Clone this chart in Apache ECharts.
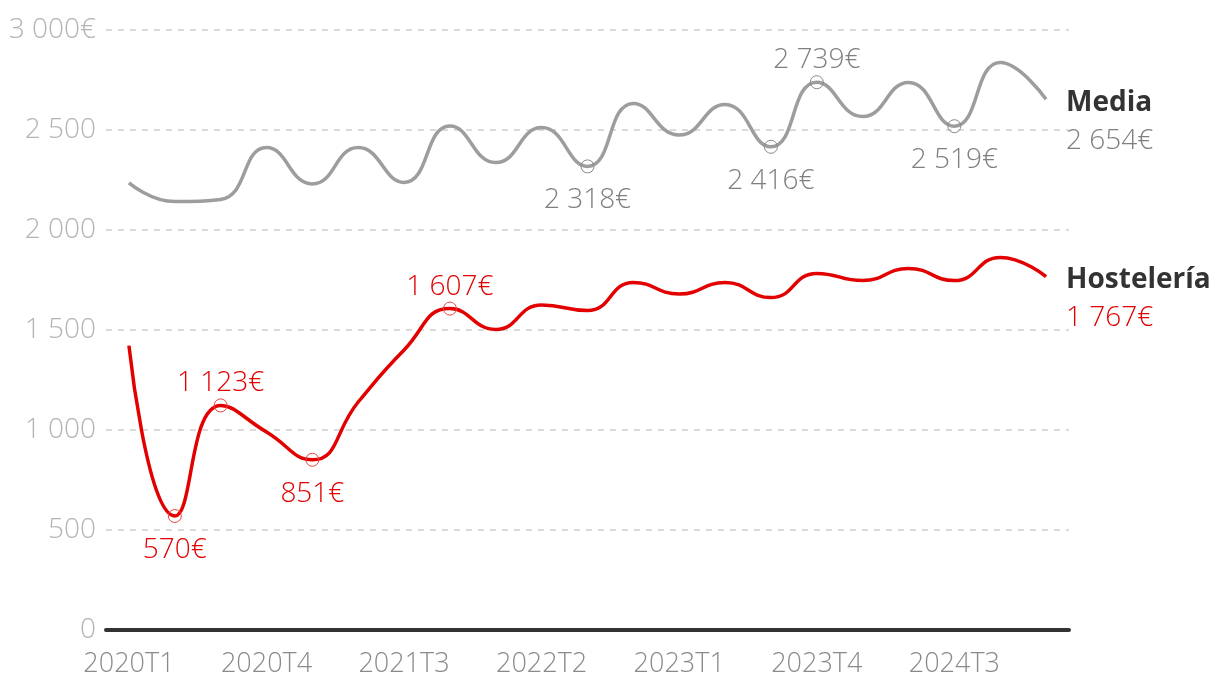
<!DOCTYPE html>
<html>
<head>
<meta charset="utf-8">
<script src="https://cdn.jsdelivr.net/npm/echarts@6/dist/echarts.min.js"></script>
<style>
html,body{margin:0;padding:0;background:#fff;}
#chart{width:1220px;height:696px;}
</style>
</head>
<body>
<div id="chart"></div>
<script>
const categories = ['2020T1','2020T2','2020T3','2020T4','2021T1','2021T2','2021T3','2021T4','2022T1','2022T2','2022T3','2022T4','2023T1','2023T2','2023T3','2023T4','2024T1','2024T2','2024T3','2024T4','2025T1'];
const hosteleria = [1422, 570, 1123, 990, 851, 1140, 1400, 1607, 1503, 1625, 1597, 1738, 1680, 1737, 1662, 1783, 1747, 1808, 1747, 1863, 1767];
const media = [2236, 2142, 2153, 2412, 2230, 2412, 2238, 2520, 2337, 2512, 2318, 2633, 2475, 2628, 2416, 2739, 2567, 2738, 2519, 2837, 2654];
// labelled points: index -> position
const hostLabels = {1:'bottom', 2:'top', 4:'bottom', 7:'top'};
const mediaLabels = {10:'bottom', 14:'bottom', 15:'top', 18:'bottom'};
const yTicks = [0, 500, 1000, 1500, 2000, 2500, 3000];

const FONT = '"Open Sans", sans-serif';
const RED = '#e20000';
const GREY = '#9d9d9f';

function fmt(v){
  return String(Math.round(v)).replace(/\B(?=(\d{3})+(?!\d))/g, ' ');
}

function buildData(values, labels, color, markColor){
  return values.map((v, i) => {
    if (labels[i]) {
      const pos = labels[i];
      return {
        value: v,
        symbol: 'circle',
        itemStyle: {color: 'rgba(255,255,255,0)', borderColor: markColor, borderWidth: 1},
        label: {
          show: true,
          position: pos,
          distance: pos === 'top' ? 1 : 13,
          formatter: fmt(v) + '€',
          color: color,
          fontFamily: FONT,
          fontWeight: 300,
          fontSize: 28
        }
      };
    }
    return {value: v, symbol: 'none'};
  });
}

const chart = echarts.init(document.getElementById('chart'), null, {renderer:'canvas'});
chart.setOption({
  animation: false,
  backgroundColor: '#fff',
  grid: {left: 106, right: 151, top: 30, bottom: 66, containLabel: false},
  xAxis: {
    type: 'category',
    data: categories,
    boundaryGap: true,
    axisLine: {show: true, lineStyle: {color: '#333', width: 4}},
    axisTick: {show: false},
    axisLabel: {
      interval: 2,
      margin: 21,
      color: '#8a8a8a',
      fontFamily: FONT,
      fontWeight: 300,
      fontSize: 27
    },
    splitLine: {show: false}
  },
  yAxis: {
    type: 'value',
    min: 0,
    max: 3000,
    interval: 500,
    axisLine: {show: false},
    axisTick: {show: false},
    axisLabel: {
      margin: 10,
      color: '#b4b4b4',
      fontFamily: FONT,
      fontWeight: 300,
      fontSize: 28,
      formatter: v => v === yTicks[yTicks.length-1] ? fmt(v) + '€' : fmt(v)
    },
    splitLine: {show: true, lineStyle: {color: '#d0d0d0', type: [6, 6], width: 1.5}}
  },
  series: [
    {
      name: 'Media',
      type: 'line',
      data: buildData(media, mediaLabels, '#7f7f7f', '#8a8a8a'),
      smooth: 0.5,
      showSymbol: true,
      symbolSize: 13,
      lineStyle: {color: GREY, width: 3.5},
      endLabel: {
        show: true,
        distance: 20,
        offset: [0, 23],
        formatter: p => '{n|' + p.seriesName + '}\n{v|' + fmt(p.value) + '€}',
        rich: {
          n: {fontFamily: FONT, fontWeight: 700, fontSize: 28, color: '#333', lineHeight: 38},
          v: {fontFamily: FONT, fontWeight: 300, fontSize: 28, color: '#7f7f7f', lineHeight: 38}
        }
      },
      z: 2
    },
    {
      name: 'Hostelería',
      type: 'line',
      data: buildData(hosteleria, hostLabels, RED, '#e84545'),
      smooth: 0.5,
      showSymbol: true,
      symbolSize: 13,
      lineStyle: {color: RED, width: 3.5},
      endLabel: {
        show: true,
        distance: 20,
        offset: [0, 22],
        formatter: p => '{n|' + p.seriesName + '}\n{v|' + fmt(p.value) + '€}',
        rich: {
          n: {fontFamily: FONT, fontWeight: 700, fontSize: 28, color: '#333', lineHeight: 38},
          v: {fontFamily: FONT, fontWeight: 300, fontSize: 28, color: RED, lineHeight: 38}
        }
      },
      z: 3
    }
  ]
});
</script>
</body>
</html>
